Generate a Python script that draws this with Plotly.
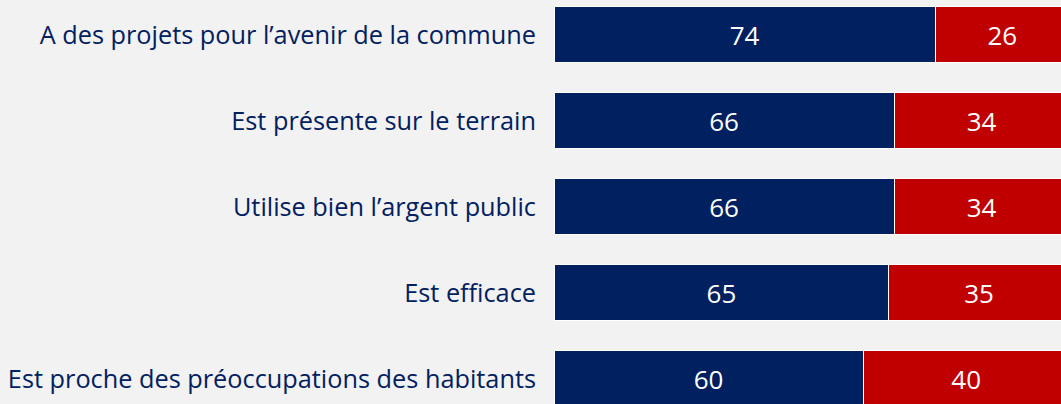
import plotly.graph_objects as go

# items, top to bottom
categories = [
    "A des projets pour l’avenir de la commune",
    "Est présente sur le terrain",
    "Utilise bien l’argent public",
    "Est efficace",
    "Est proche des préoccupations des habitants",
]
oui = [74, 66, 66, 65, 60]
non = [26, 34, 34, 35, 40]

BLUE = "#002060"
RED = "#c00000"
BG = "#f2f2f2"

fig = go.Figure()
for vals, color in [(oui, BLUE), (non, RED)]:
    fig.add_trace(go.Bar(
        y=categories,
        x=vals,
        orientation="h",
        marker=dict(color=color, line=dict(color="white", width=1)),
        text=vals,
        textposition="inside",
        insidetextanchor="middle",
        textfont=dict(color="white", size=26, family="Open Sans"),
        showlegend=False,
        hoverinfo="skip",
    ))

fig.update_layout(
    barmode="stack",
    bargap=0.35,
    width=1061,
    height=404,
    margin=dict(l=554, r=0, t=0, b=0),
    paper_bgcolor=BG,
    plot_bgcolor=BG,
    font=dict(family="Open Sans", color=BLUE, size=25),
    uniformtext=dict(minsize=26, mode="show"),
)
fig.update_xaxes(range=[0, 98.4], visible=False, fixedrange=True)
fig.update_yaxes(
    categoryorder="array",
    categoryarray=categories,
    range=[4.294, -0.403],
    showgrid=False,
    zeroline=False,
    showline=False,
    ticks="",
    ticklabelstandoff=17,
    tickfont=dict(size=25.3, color=BLUE, family="Open Sans"),
    automargin=False,
    fixedrange=True,
)

fig.write_html(
    "out.html",
    config={"displayModeBar": False},
    post_script="document.body.style.margin='0';",
)
